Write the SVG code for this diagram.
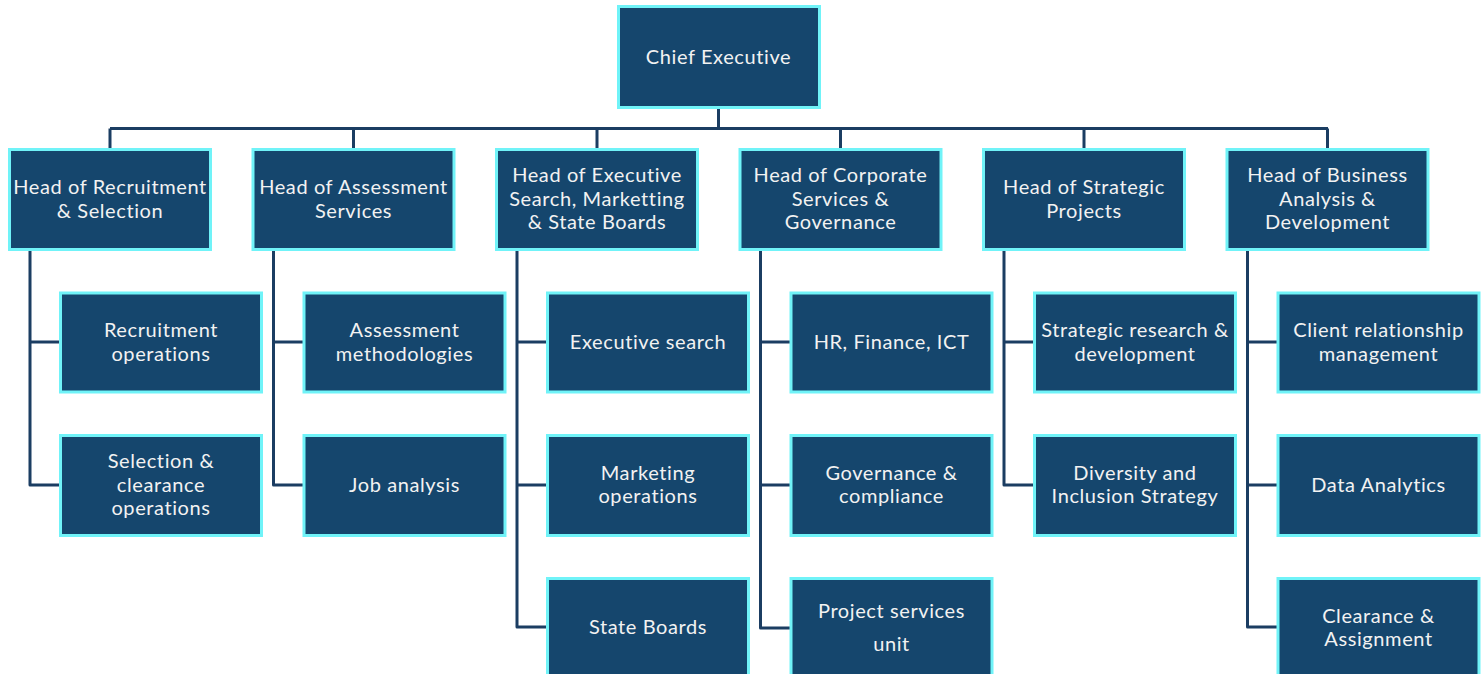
<svg xmlns="http://www.w3.org/2000/svg" width="1484" height="674" viewBox="0 0 1484 674">
  <style>
    .box { fill: #15466d; stroke: #70f3f8; stroke-width: 3; }
    .lbl { fill: #f2f2f2; font-family: Lato, "Noto Sans", sans-serif; font-size: 20px; letter-spacing: 0.6px; text-anchor: middle; }
    .wire { fill: none; stroke: #1b3d62; stroke-width: 3; stroke-linejoin: round; }
  </style>
  <rect width="1484" height="674" fill="#ffffff"/>

  <!-- connectors -->
  <g id="connectors" class="wire">
    <path d="M718.5 108 V128.5"/>
    <path d="M110 128.5 H1328"/>
    <path d="M110 128.5 V149"/>
    <path d="M353.5 128.5 V149"/>
    <path d="M597 128.5 V149"/>
    <path d="M840.5 128.5 V149"/>
    <path d="M1084 128.5 V149"/>
    <path d="M1327.5 128.5 V149"/>
    <!-- column 1 -->
    <path d="M30 250 V485 H60"/>
    <path d="M30 342 H60"/>
    <!-- column 2 -->
    <path d="M273.5 250 V485 H303.5"/>
    <path d="M273.5 342 H303.5"/>
    <!-- column 3 -->
    <path d="M517 250 V627 H547"/>
    <path d="M517 342 H547"/>
    <path d="M517 485 H547"/>
    <!-- column 4 -->
    <path d="M760.5 250 V628 H790.5"/>
    <path d="M760.5 342 H790.5"/>
    <path d="M760.5 485 H790.5"/>
    <!-- column 5 -->
    <path d="M1004 250 V485 H1034"/>
    <path d="M1004 342 H1034"/>
    <!-- column 6 -->
    <path d="M1247.5 250 V627 H1277.5"/>
    <path d="M1247.5 342 H1277.5"/>
    <path d="M1247.5 485 H1277.5"/>
  </g>

  <g id="chief">
    <rect class="box" x="618.5" y="6.5" width="201" height="101"/>
    <text class="lbl" x="718.5" y="63.5">Chief Executive</text>
  </g>

  <!-- heads -->
  <g id="head-recruitment">
    <rect class="box" x="9.5" y="149.5" width="201" height="100"/>
    <text class="lbl" x="110" y="193.5">Head of Recruitment</text>
    <text class="lbl" x="110" y="217.5">&amp; Selection</text>
  </g>
  <g id="head-assessment">
    <rect class="box" x="253" y="149.5" width="201" height="100"/>
    <text class="lbl" x="353.5" y="193.5">Head of Assessment</text>
    <text class="lbl" x="353.5" y="217.5">Services</text>
  </g>
  <g id="head-executive">
    <rect class="box" x="496.5" y="149.5" width="201" height="100"/>
    <text class="lbl" x="597" y="181.5">Head of Executive</text>
    <text class="lbl" x="597" y="205.5">Search, Marketting</text>
    <text class="lbl" x="597" y="228.5">&amp; State Boards</text>
  </g>
  <g id="head-corporate">
    <rect class="box" x="740" y="149.5" width="201" height="100"/>
    <text class="lbl" x="840.5" y="181.5">Head of Corporate</text>
    <text class="lbl" x="840.5" y="205.5">Services &amp;</text>
    <text class="lbl" x="840.5" y="228.5">Governance</text>
  </g>
  <g id="head-strategic">
    <rect class="box" x="983.5" y="149.5" width="201" height="100"/>
    <text class="lbl" x="1084" y="193.5">Head of Strategic</text>
    <text class="lbl" x="1084" y="217.5">Projects</text>
  </g>
  <g id="head-business">
    <rect class="box" x="1227" y="149.5" width="201" height="100"/>
    <text class="lbl" x="1327.5" y="181.5">Head of Business</text>
    <text class="lbl" x="1327.5" y="205.5">Analysis &amp;</text>
    <text class="lbl" x="1327.5" y="228.5">Development</text>
  </g>

  <!-- column 1 units -->
  <g id="recruitment-ops">
    <rect class="box" x="60.5" y="293" width="201" height="99"/>
    <text class="lbl" x="161" y="336.5">Recruitment</text>
    <text class="lbl" x="161" y="360.5">operations</text>
  </g>
  <g id="selection-ops">
    <rect class="box" x="60.5" y="435.5" width="201" height="100"/>
    <text class="lbl" x="161" y="467.5">Selection &amp;</text>
    <text class="lbl" x="161" y="491.5">clearance</text>
    <text class="lbl" x="161" y="514.5">operations</text>
  </g>

  <!-- column 2 units -->
  <g id="assessment-methods">
    <rect class="box" x="304" y="293" width="201" height="99"/>
    <text class="lbl" x="404.5" y="336.5">Assessment</text>
    <text class="lbl" x="404.5" y="360.5">methodologies</text>
  </g>
  <g id="job-analysis">
    <rect class="box" x="304" y="435.5" width="201" height="100"/>
    <text class="lbl" x="404.5" y="491.5">Job analysis</text>
  </g>

  <!-- column 3 units -->
  <g id="executive-search">
    <rect class="box" x="547.5" y="293" width="201" height="99"/>
    <text class="lbl" x="648" y="348.5">Executive search</text>
  </g>
  <g id="marketing-ops">
    <rect class="box" x="547.5" y="435.5" width="201" height="100"/>
    <text class="lbl" x="648" y="479.5">Marketing</text>
    <text class="lbl" x="648" y="502.5">operations</text>
  </g>
  <g id="state-boards">
    <rect class="box" x="547.5" y="578.5" width="201" height="100"/>
    <text class="lbl" x="648" y="633.5">State Boards</text>
  </g>

  <!-- column 4 units -->
  <g id="hr-finance-ict">
    <rect class="box" x="791" y="293" width="201" height="99"/>
    <text class="lbl" x="891.5" y="348.5">HR, Finance, ICT</text>
  </g>
  <g id="governance">
    <rect class="box" x="791" y="435.5" width="201" height="100"/>
    <text class="lbl" x="891.5" y="479.5">Governance &amp;</text>
    <text class="lbl" x="891.5" y="502.5">compliance</text>
  </g>
  <g id="project-services">
    <rect class="box" x="791" y="578.5" width="201" height="100"/>
    <text class="lbl" x="891.5" y="617.5">Project services</text>
    <text class="lbl" x="891.5" y="650.5">unit</text>
  </g>

  <!-- column 5 units -->
  <g id="strategic-research">
    <rect class="box" x="1034.5" y="293" width="201" height="99"/>
    <text class="lbl" x="1135" y="336.5">Strategic research &amp;</text>
    <text class="lbl" x="1135" y="360.5">development</text>
  </g>
  <g id="diversity">
    <rect class="box" x="1034.5" y="435.5" width="201" height="100"/>
    <text class="lbl" x="1135" y="479.5">Diversity and</text>
    <text class="lbl" x="1135" y="502.5">Inclusion Strategy</text>
  </g>

  <!-- column 6 units -->
  <g id="client-relationship">
    <rect class="box" x="1278" y="293" width="201" height="99"/>
    <text class="lbl" x="1378.5" y="336.5">Client relationship</text>
    <text class="lbl" x="1378.5" y="360.5">management</text>
  </g>
  <g id="data-analytics">
    <rect class="box" x="1278" y="435.5" width="201" height="100"/>
    <text class="lbl" x="1378.5" y="491.5">Data Analytics</text>
  </g>
  <g id="clearance-assignment">
    <rect class="box" x="1278" y="578.5" width="201" height="100"/>
    <text class="lbl" x="1378.5" y="622.5">Clearance &amp;</text>
    <text class="lbl" x="1378.5" y="645.5">Assignment</text>
  </g>
</svg>
